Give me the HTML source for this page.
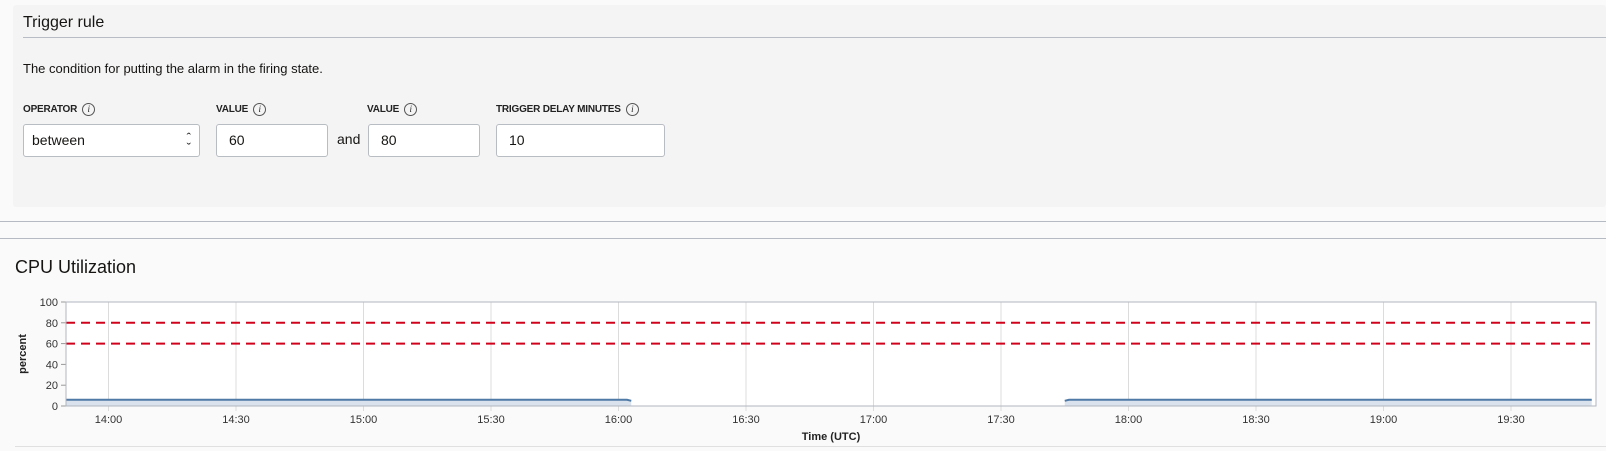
<!DOCTYPE html>
<html><head><meta charset="utf-8">
<style>
body{margin:0;width:1606px;height:451px;background:#fafafa;font-family:"Liberation Sans",Arial,sans-serif;color:#161513;position:relative;overflow:hidden}
.abs{position:absolute}
#panel{left:13px;top:5px;width:1593px;height:202px;background:#f4f4f4;border-radius:3px}
.lbl{font-size:10px;font-weight:bold;color:#222;letter-spacing:-0.2px}
.info{display:inline-block;width:11px;height:11px;border:1px solid #555;border-radius:50%;font-size:9px;font-style:italic;text-align:center;line-height:11px;font-weight:normal;margin-left:5px;vertical-align:middle;font-family:"Liberation Serif",serif}
.inp{background:#fff;border:1px solid #b8bcc3;border-radius:3px;height:33px;box-sizing:border-box;font-size:14px;line-height:31px;padding-left:12px}
.hr{left:0;width:1606px;height:1px;background:#b6bac3}
</style></head><body>
<div id="panel" class="abs"></div>
<div class="abs" style="left:23px;top:14px;font-size:16px">Trigger rule</div>
<div class="abs" style="left:23px;top:37px;width:1583px;height:1px;background:#b8bcc5"></div>
<div class="abs" style="left:23px;top:61px;font-size:13px">The condition for putting the alarm in the firing state.</div>
<div class="abs lbl" style="left:23px;top:103px">OPERATOR<span class="info">i</span></div>
<div class="abs lbl" style="left:216px;top:103px">VALUE<span class="info">i</span></div>
<div class="abs lbl" style="left:367px;top:103px">VALUE<span class="info">i</span></div>
<div class="abs lbl" style="left:496px;top:103px">TRIGGER DELAY MINUTES<span class="info">i</span></div>
<div class="abs inp" style="left:23px;top:124px;width:177px;padding-left:8px">between<span style="position:absolute;right:8px;font-size:13px;line-height:10px;top:8px;text-align:center">&#710;<br>&#711;</span></div>
<div class="abs inp" style="left:216px;top:124px;width:112px">60</div>
<div class="abs" style="left:337px;top:131px;font-size:14px">and</div>
<div class="abs inp" style="left:368px;top:124px;width:112px">80</div>
<div class="abs inp" style="left:496px;top:124px;width:169px">10</div>
<div class="abs hr" style="top:221px"></div>
<div class="abs hr" style="top:238px"></div>
<div class="abs" style="left:15px;top:257px;font-size:18px">CPU Utilization</div>
<div class="abs" style="left:15px;top:446px;width:1591px;height:1px;background:#e0e0e0"></div>
<svg id="chart" class="abs" style="left:0;top:0" width="1606" height="451"></svg>
<script>
const yTicks=[0,20,40,60,80,100];
const xTickLabels=["14:00","14:30","15:00","15:30","16:00","16:30","17:00","17:30","18:00","18:30","19:00","19:30"];
const xTickMinutes=[10,40,70,100,130,160,190,220,250,280,310,340];
const thresholds=[60,80];
const seg1Minutes=[0,10,20,30,40,50,60,70,80,90,100,110,120,130,132,133];
const seg1Values=[6,6,6,6,6,6,6,6,6,6,6,6,6,6,6,5];
const seg2Minutes=[235,236,238,250,260,270,280,290,300,310,320,330,340,350,359];
const seg2Values=[5,6,6,6,6,6,6,6,6,6,6,6,6,6,6];
const L=66,R=1596,T=302,B=406,XMIN=0,XMAX=360;
const NS="http://www.w3.org/2000/svg";
const svg=document.getElementById('chart');
const x=m=>L+(m-XMIN)/(XMAX-XMIN)*(R-L);
const y=v=>B-v/100*(B-T);
function mk(t,a,p){const e=document.createElementNS(NS,t);for(const k in a)e.setAttribute(k,a[k]);(p||svg).appendChild(e);return e;}
const bg=mk('rect',{x:L,y:T,width:R-L,height:B-T,fill:'#fff'});


xTickMinutes.forEach((m,i)=>{
 const g=mk('line',{x1:x(m),x2:x(m),y1:T,y2:B+5,stroke:'#dcdcdc','stroke-width':1});
 
 
 const t=mk('text',{x:x(m),y:B+17,'text-anchor':'middle','font-size':11,fill:'#333'});
 t.textContent=xTickLabels[i];
 
 
});
yTicks.forEach(v=>{
 const tk=mk('line',{x1:L-5,x2:L,y1:y(v),y2:y(v),stroke:'#999'});
 
 
 const t=mk('text',{x:L-8,y:y(v)+4,'text-anchor':'end','font-size':11,fill:'#333'});
 t.textContent=v;
 
 
});
[[seg1Minutes,seg1Values],[seg2Minutes,seg2Values]].forEach(([ms,vs])=>{
 let d='';ms.forEach((m,i)=>{d+=(i?'L':'M')+x(m)+','+y(vs[i]);});
 const a=mk('path',{d:d+'L'+x(ms[ms.length-1])+','+B+'L'+x(ms[0])+','+B+'Z',fill:'#dae3ed'});
 
 
 const l=mk('path',{d:d,fill:'none',stroke:'#4f79a6','stroke-width':2});
 
 
});
thresholds.forEach(v=>{
 const l=mk('line',{x1:L,x2:R,y1:y(v),y2:y(v),stroke:'#d0021b','stroke-width':2,'stroke-dasharray':'9,6'});
 
 
});
const fr=mk('rect',{x:L,y:T,width:R-L,height:B-T,fill:'none',stroke:'#b0b6bf'});


const yt=mk('text',{x:0,y:0,transform:'translate(26,'+((T+B)/2)+') rotate(-90)','text-anchor':'middle','font-size':11,'font-weight':'bold',fill:'#222'});
yt.textContent='percent';


const xt=mk('text',{x:(L+R)/2,y:B+34,'text-anchor':'middle','font-size':11,'font-weight':'bold',fill:'#222'});
xt.textContent='Time (UTC)';


</script>
</body></html>
